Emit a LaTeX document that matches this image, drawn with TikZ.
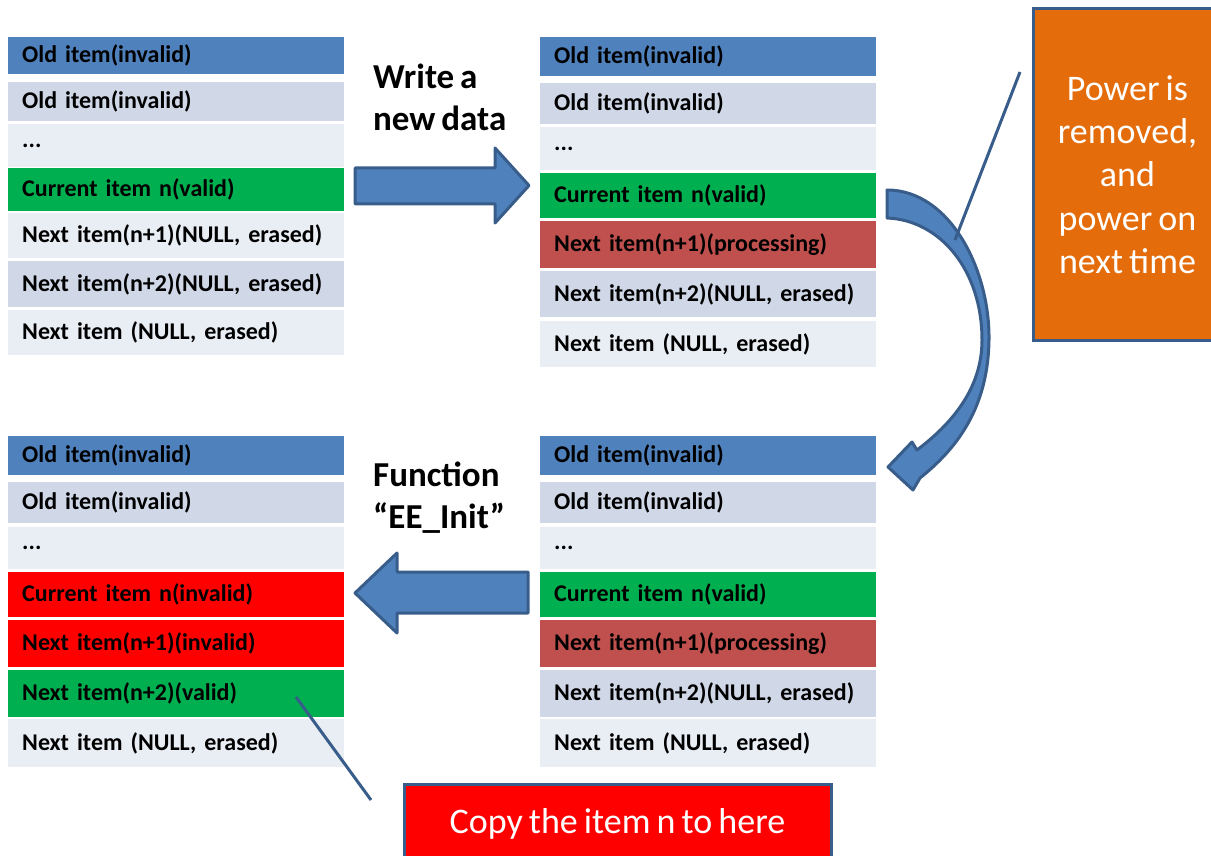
\documentclass[tikz,border=0pt]{standalone}
\usepackage{fontspec}
\setmainfont[WordSpace=0.75]{Carlito}
\definecolor{hdrblue}{HTML}{4F81BD}
\definecolor{rowdark}{HTML}{D0D8E8}
\definecolor{rowlight}{HTML}{E9EDF4}
\definecolor{okgreen}{HTML}{00B050}
\definecolor{brick}{HTML}{C0504D}
\definecolor{badred}{HTML}{FF0000}
\definecolor{boxorange}{HTML}{E46C0A}
\definecolor{edgeblue}{HTML}{385D8A}
\newcommand\cellfont{\bfseries\fontsize{24}{28}\selectfont}
\tikzset{
  cell/.style={rectangle, fill=#1, anchor=north west, inner xsep=14pt, inner ysep=0pt,
    text width=308pt, align=left, font=\cellfont, text=black},
  caption/.style={anchor=west, inner sep=0pt, align=left,
    font=\bfseries\fontsize{35}{42}\selectfont},
  blockarrow/.style={fill=hdrblue, draw=edgeblue, line width=3pt, line join=round},
  callout/.style={rectangle, draw=edgeblue, line width=3pt, text=white, align=center},
  pointer/.style={draw=edgeblue, line width=3pt}
}
\begin{document}
\begin{tikzpicture}[x=1pt,y=-1pt]
\useasboundingbox (0,0) rectangle (1211,856);
\clip (0,0) rectangle (1211,856);

% table 1: before writing
\node[cell=hdrblue, minimum height=37] (a1) at (8,37) {Old item(invalid)};
\node[cell=rowdark, minimum height=39] (a2) at (8,82) {Old item(invalid)};
\node[cell=rowlight, minimum height=43] (a3) at (8,124) {...};
\node[cell=okgreen, minimum height=43] (a4) at (8,168) {Current item n(valid)};
\node[cell=rowlight, minimum height=45] (a5) at (8,213) {Next item(n+1)(NULL, erased)};
\node[cell=rowdark, minimum height=46] (a6) at (8,261) {Next item(n+2)(NULL, erased)};
\node[cell=rowlight, minimum height=45] (a7) at (8,310) {Next item (NULL, erased)};

% table 2: while writing
\node[cell=hdrblue, minimum height=39] (b1) at (540,37) {Old item(invalid)};
\node[cell=rowdark, minimum height=41] (b2) at (540,83) {Old item(invalid)};
\node[cell=rowlight, minimum height=43] (b3) at (540,127) {...};
\node[cell=okgreen, minimum height=45] (b4) at (540,173) {Current item n(valid)};
\node[cell=brick, minimum height=47] (b5) at (540,221) {Next item(n+1)(processing)};
\node[cell=rowdark, minimum height=46] (b6) at (540,271) {Next item(n+2)(NULL, erased)};
\node[cell=rowlight, minimum height=46] (b7) at (540,321) {Next item (NULL, erased)};

% table 3: after EE_Init
\node[cell=hdrblue, minimum height=39] (c1) at (8,436) {Old item(invalid)};
\node[cell=rowdark, minimum height=41] (c2) at (8,482) {Old item(invalid)};
\node[cell=rowlight, minimum height=42] (c3) at (8,527) {...};
\node[cell=badred, minimum height=45] (c4) at (8,572) {Current item n(invalid)};
\node[cell=badred, minimum height=47] (c5) at (8,620) {Next item(n+1)(invalid)};
\node[cell=okgreen, minimum height=47] (c6) at (8,670) {Next item(n+2)(valid)};
\node[cell=rowlight, minimum height=48] (c7) at (8,719) {Next item (NULL, erased)};

% table 4: after power loss
\node[cell=hdrblue, minimum height=39] (d1) at (540,436) {Old item(invalid)};
\node[cell=rowdark, minimum height=41] (d2) at (540,482) {Old item(invalid)};
\node[cell=rowlight, minimum height=42] (d3) at (540,527) {...};
\node[cell=okgreen, minimum height=45] (d4) at (540,572) {Current item n(valid)};
\node[cell=brick, minimum height=47] (d5) at (540,620) {Next item(n+1)(processing)};
\node[cell=rowdark, minimum height=47] (d6) at (540,670) {Next item(n+2)(NULL, erased)};
\node[cell=rowlight, minimum height=48] (d7) at (540,719) {Next item (NULL, erased)};

% step captions
\node[caption] (wlabel) at (373,97) {Write a\\new data};
\node[caption] (flabel) at (373,498) {Function\\“EE\_Init”};

% straight block arrows
\path[blockarrow] (355,168) -- (495,168) -- (495,148) -- (529,185.5)
  -- (495,223) -- (495,204) -- (355,204) -- cycle;
\path[blockarrow] (355,593) -- (397,553) -- (397,572) -- (528,572)
  -- (528,613) -- (397,613) -- (397,633) -- cycle;

% curved arrow from table 2 down to table 4
\path[blockarrow] (887,190) .. controls (950,190) and (990,270) .. (989,340)
  .. controls (988,410) and (955,450) .. (920,478)
  -- (913,490) -- (888,467) -- (912,442) -- (917,450)
  .. controls (950,425) and (982,390) .. (982,340)
  .. controls (982,270) and (940,220) .. (887,218) -- cycle;

% callouts
\node[callout, fill=boxorange, minimum width=189, minimum height=331,
  font=\fontsize{36}{43.3}\selectfont] (power) at (1127.5,174.5)
  {Power is\\removed,\\and\\power on\\next time};
\node[callout, fill=badred, minimum width=427, minimum height=80,
  font=\fontsize{36}{43}\selectfont] (copy) at (617.5,824) {Copy the item n to here};

\coordinate (ptrA) at (1020,72);
\coordinate (ptrB) at (955,240);
\coordinate (ptrC) at (296,697);
\coordinate (ptrD) at (371,800);
\draw[pointer] (ptrA) -- (ptrB);
\draw[pointer] (ptrC) -- (ptrD);
\end{tikzpicture}
\end{document}
